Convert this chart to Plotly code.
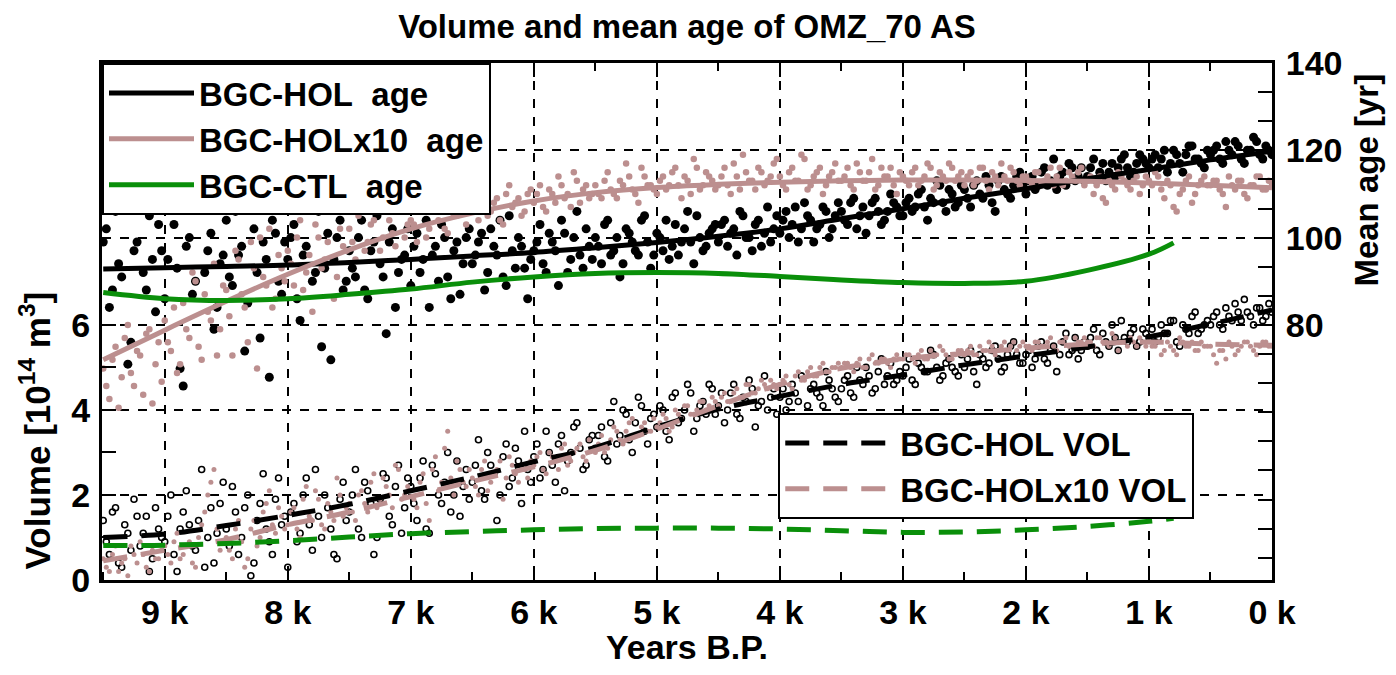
import plotly.graph_objects as go

# time axis (years before present); two interleaved sample sets
YEARS_A = list(range(9500, -1, -50))
YEARS_B = list(range(9475, 0, -50))
LINE_YEARS = [9500, 9000, 8500, 8000, 7500, 7000, 6500, 6000, 5500, 5000,
              4500, 4000, 3500, 3000, 2500, 2000, 1500, 1000, 500, 0]
CTL_YEARS = [9500, 9000, 8500, 8000, 7500, 7000, 6500, 6000, 5500, 5000,
             4500, 4000, 3500, 3000, 2500, 2000, 1500, 1000, 800]

# mean age scatter [yr]
hol_age_a = [
    99, 84, 106, 91, 71, 97, 110, 88, 95, 103,
    86, 108, 93, 66, 100, 90, 112, 97, 79, 94,
    104, 89, 96, 74, 107, 92, 99, 68, 101, 87,
    95, 103, 81, 98, 90, 106, 93, 72, 100, 88,
    97, 91, 104, 86, 99, 94, 78, 102, 92, 96,
    89, 101, 95, 84, 98, 103, 91, 97, 87, 100,
    94, 99, 88, 102, 96, 91, 105, 93, 98, 86,
    97, 103, 92, 99, 89, 101, 95, 106, 93, 98,
    100, 94, 104, 97, 91, 102, 99, 96, 105, 93,
    101, 97, 95, 103, 99, 106, 94, 100, 98, 102,
    99, 104, 101, 96, 105, 100, 103, 98, 107, 102,
    101, 106, 103, 99, 108, 104, 102, 107, 100, 105,
    106, 103, 109, 105, 101, 108, 106, 104, 110, 107,
    105, 109, 107, 111, 104, 108, 112, 106, 110, 108,
    111, 107, 113, 109, 112, 106, 114, 110, 112, 115,
    110, 114, 112, 116, 113, 111, 115, 117, 113, 116,
    114, 118, 115, 113, 117, 116, 119, 114, 117, 118,
    116, 119, 118, 115, 120, 117, 119, 121, 118, 116,
    119, 121, 117, 120, 122, 118, 120, 123, 119, 121,
    119,
]
hol_age_b = [
    102, 88, 94, 108, 76, 99, 92, 105, 83, 97,
    95, 103, 70, 98, 87, 109, 92, 101, 84, 96,
    91, 106, 98, 85, 102, 77, 95, 104, 90, 99,
    100, 86, 96, 108, 92, 75, 101, 95, 104, 90,
    93, 100, 88, 97, 105, 91, 99, 84, 95, 102,
    98, 92, 104, 96, 90, 100, 86, 99, 94, 102,
    96, 101, 92, 98, 104, 89, 97, 100, 93, 95,
    99, 94, 101, 97, 104, 92, 100, 96, 102, 95,
    98, 103, 96, 100, 94, 101, 97, 104, 99, 96,
    100, 104, 98, 96, 102, 99, 105, 97, 101, 103,
    103, 98, 102, 106, 100, 97, 104, 101, 99, 105,
    104, 100, 107, 102, 105, 99, 103, 106, 102, 108,
    104, 108, 102, 107, 105, 109, 103, 106, 108, 105,
    108, 106, 110, 107, 109, 113, 108, 111, 107, 112,
    109, 112, 110, 114, 108, 113, 111, 109, 114, 112,
    113, 111, 115, 112, 118, 114, 112, 116, 114, 113,
    116, 113, 117, 115, 114, 118, 116, 115, 119, 117,
    118, 116, 120, 117, 119, 115, 121, 118, 117, 120,
    120, 118, 122, 119, 121, 117, 120, 122, 118, 120,
]
holx10_age_a = [
    70, 63, 75, 68, 80, 66, 73, 78, 62, 76,
    81, 74, 69, 85, 77, 90, 72, 83, 94, 79,
    88, 73, 95, 84, 99, 70, 91, 102, 86, 93,
    97, 89, 104, 92, 83, 100, 95, 107, 91, 98,
    102, 95, 109, 99, 104, 97, 111, 101, 106, 100,
    104, 99, 108, 102, 106, 110, 101, 105, 108, 103,
    107, 104, 111, 106, 109, 103, 112, 108, 105, 110,
    108, 112, 106, 110, 114, 109, 107, 113, 111, 109,
    112, 109, 115, 110, 113, 117, 111, 108, 114, 112,
    110, 114, 112, 116, 109, 113, 118, 111, 115, 113,
    112, 116, 110, 114, 119, 113, 111, 115, 113, 117,
    114, 111, 116, 113, 118, 112, 115, 110, 114, 117,
    113, 116, 111, 115, 113, 118, 112, 114, 116, 110,
    114, 112, 116, 113, 117, 111, 115, 113, 116, 114,
    112, 115, 113, 116, 111, 114, 117, 113, 115, 112,
    114, 112, 115, 113, 116, 114, 112, 115, 113, 116,
    113, 110, 114, 108, 112, 115, 113, 111, 114, 112,
    113, 115, 111, 113, 107, 110, 113, 108, 112, 114,
    112, 113, 110, 114, 111, 113, 109, 112, 114, 111,
    112,
]
holx10_age_b = [
    66, 72, 61, 77, 69, 74, 64, 79, 71, 67,
    76, 84, 71, 79, 92, 75, 87, 81, 73, 89,
    82, 97, 87, 76, 93, 100, 89, 84, 96, 90,
    94, 100, 88, 96, 103, 93, 99, 86, 102, 97,
    99, 105, 97, 103, 108, 100, 104, 98, 107, 103,
    103, 107, 100, 109, 104, 102, 107, 105, 111, 106,
    106, 109, 105, 108, 104, 110, 107, 109, 106, 111,
    110, 107, 111, 108, 112, 110, 115, 108, 112, 110,
    110, 113, 111, 109, 112, 114, 110, 116, 112, 111,
    113, 111, 115, 112, 114, 110, 116, 112, 114, 111,
    114, 112, 117, 111, 115, 113, 116, 112, 114, 118,
    112, 115, 113, 119, 111, 114, 116, 112, 115, 113,
    114, 112, 117, 113, 115, 111, 116, 114, 112, 115,
    113, 115, 112, 114, 116, 112, 114, 117, 113, 115,
    114, 112, 116, 113, 115, 112, 114, 116, 113, 114,
    113, 115, 112, 114, 112, 116, 113, 114, 115, 112,
    114, 112, 109, 113, 111, 114, 112, 113, 110, 114,
    112, 114, 109, 112, 106, 111, 114, 110, 113, 112,
    113, 111, 107, 112, 113, 110, 112, 114, 111, 113,
]

# volume scatter [10^14 m^3]
hol_vol_a = [
    1.4, 0.6, 1.7, 0.3, 1.1, 1.9, 0.8, 1.5, 0.5, 1.2,
    0.9, 2.0, 0.2, 1.6, 1.3, 0.7, 2.6, 1.0, 0.4, 1.8,
    1.2, 2.2, 0.6, 1.7, 0.1, 1.4, 2.5, 0.9, 1.9, 1.3,
    0.3, 1.8, 1.1, 2.4, 0.7, 1.5, 2.0, 1.2, 0.5, 2.3,
    1.6, 2.6, 1.0, 2.1, 0.6, 1.9, 2.4, 1.3, 2.7, 1.7,
    2.2, 1.4, 2.8, 1.1, 2.5, 1.8, 3.0, 2.0, 1.5, 2.6,
    2.3, 3.3, 1.9, 2.7, 1.4, 2.9, 2.2, 3.1, 1.8, 2.6,
    2.9, 2.4, 3.5, 2.7, 3.2, 2.1, 3.0, 3.7, 2.6, 3.3,
    3.1, 3.6, 2.8, 4.2, 3.4, 3.9, 3.0, 4.3, 3.5, 3.8,
    3.6, 4.0, 3.3, 4.4, 3.8, 4.6, 3.5, 4.1, 3.9, 4.5,
    4.1, 3.7, 4.4, 3.9, 4.3, 4.7, 3.6, 4.2, 4.0, 4.5,
    4.3, 4.0, 4.6, 4.2, 3.8, 4.5, 4.4, 4.1, 4.7, 4.3,
    4.5, 4.8, 4.3, 4.7, 5.0, 4.4, 4.9, 4.6, 5.1, 4.7,
    4.8, 5.2, 4.6, 5.0, 4.9, 5.3, 4.7, 5.1, 5.0, 4.8,
    5.0, 5.4, 4.6, 5.2, 5.1, 5.5, 4.9, 5.3, 5.6, 5.1,
    5.3, 5.0, 5.5, 5.2, 5.4, 4.9, 5.6, 5.3, 5.7, 5.4,
    5.5, 5.9, 5.3, 5.6, 6.0, 5.4, 5.7, 5.8, 5.5, 5.9,
    5.7, 5.6, 6.0, 5.8, 6.1, 5.5, 5.9, 6.2, 5.8, 6.0,
    6.0, 6.3, 5.9, 6.2, 6.5, 6.1, 6.3, 6.0, 6.4, 6.2,
    6.3,
]
hol_vol_b = [
    0.9, 1.6, 0.4, 1.3, 0.7, 1.5, 1.1, 0.2, 1.7, 1.0,
    1.5, 0.6, 1.2, 2.1, 0.8, 1.4, 0.3, 1.7, 1.1, 2.3,
    0.8, 1.6, 1.0, 2.0, 0.4, 1.8, 1.2, 0.6, 2.4, 1.5,
    1.6, 0.9, 2.0, 1.3, 2.6, 1.0, 1.7, 0.6, 1.9, 1.4,
    2.0, 1.2, 2.3, 1.8, 1.0, 2.5, 1.5, 2.2, 1.1, 2.4,
    1.8, 2.4, 1.2, 2.7, 2.0, 2.3, 1.6, 2.8, 2.2, 1.9,
    2.7, 2.1, 3.0, 2.5, 2.0, 3.2, 2.4, 2.8, 3.5, 2.3,
    3.2, 2.6, 3.0, 2.3, 3.4, 2.8, 3.6, 3.1, 2.7, 3.4,
    3.4, 2.9, 3.7, 3.2, 4.0, 3.3, 3.7, 4.1, 3.2, 3.9,
    4.1, 3.5, 4.3, 3.7, 4.0, 4.4, 3.8, 4.2, 4.6, 3.9,
    4.4, 4.0, 4.6, 3.8, 4.2, 4.5, 4.1, 4.8, 4.3, 3.9,
    4.5, 4.2, 4.4, 4.8, 4.1, 4.6, 4.3, 4.9, 4.5, 4.2,
    4.7, 4.4, 5.0, 4.6, 4.8, 4.5, 5.2, 4.8, 4.6, 4.9,
    5.0, 4.7, 5.1, 4.9, 5.4, 5.0, 4.8, 5.2, 4.9, 5.3,
    5.2, 4.9, 5.3, 5.0, 5.4, 5.2, 5.0, 5.5, 5.3, 5.1,
    5.4, 5.2, 5.6, 5.1, 5.5, 5.3, 5.8, 5.4, 5.2, 5.6,
    5.7, 5.4, 5.8, 5.5, 5.7, 6.1, 5.6, 5.9, 5.6, 5.8,
    5.9, 5.7, 5.8, 6.1, 5.6, 6.0, 5.8, 6.3, 5.9, 6.1,
    6.2, 6.0, 6.4, 6.1, 6.3, 6.6, 6.2, 6.4, 6.1, 6.5,
]
holx10_vol_a = [
    0.5, 0.2, 0.8, 0.4, 0.1, 0.6, 0.9, 0.3, 0.7, 0.5,
    0.8, 0.4, 1.1, 0.6, 0.9, 0.3, 1.3, 2.0, 2.6, 0.7,
    1.0, 0.5, 1.4, 0.3, 1.2, 0.8, 1.6, 2.1, 1.1, 1.5,
    1.3, 1.7, 1.0, 2.2, 1.4, 1.9, 1.2, 1.6, 2.4, 1.5,
    1.8, 1.4, 2.1, 1.6, 2.5, 1.9, 2.2, 1.7, 2.6, 2.0,
    2.1, 1.7, 2.5, 1.4, 2.9, 2.3, 3.5, 2.0, 2.6, 2.2,
    2.4, 2.0, 2.8, 2.3, 2.6, 1.9, 2.9, 2.5, 2.7, 2.4,
    2.7, 3.0, 2.5, 2.9, 2.6, 3.2, 2.8, 3.1, 2.9, 3.3,
    3.0, 3.4, 3.1, 3.6, 3.3, 3.5, 3.8, 3.4, 3.7, 3.5,
    3.6, 3.9, 3.5, 4.0, 3.8, 4.1, 3.9, 4.2, 4.0, 4.3,
    4.1, 4.4, 4.2, 4.5, 4.3, 4.6, 4.4, 4.7, 4.5, 4.6,
    4.6, 4.8, 4.5, 4.9, 4.7, 5.0, 4.8, 5.1, 4.9, 5.0,
    5.0, 5.1, 4.9, 5.2, 5.0, 5.3, 5.1, 5.2, 5.0, 5.3,
    5.2, 5.3, 5.1, 5.4, 5.2, 5.3, 5.5, 5.3, 5.2, 5.4,
    5.3, 5.5, 5.3, 5.4, 5.6, 5.3, 5.5, 5.4, 5.6, 5.5,
    5.5, 5.4, 5.6, 5.5, 5.7, 5.4, 5.6, 5.5, 5.7, 5.6,
    5.6, 5.5, 5.7, 5.6, 5.8, 5.4, 5.6, 5.7, 5.5, 5.6,
    5.6, 5.5, 5.3, 5.6, 5.4, 5.7, 5.5, 5.6, 5.4, 5.5,
    5.5, 5.1, 5.4, 5.6, 5.3, 5.5, 5.6, 5.4, 5.5, 5.6,
    5.5,
]
holx10_vol_b = [
    0.3, 0.6, 0.2, 0.5, 0.8, 0.4, 0.6, 0.2, 0.5, 0.7,
    0.6, 0.9, 0.5, 0.8, 0.4, 1.0, 1.6, 2.3, 1.2, 0.9,
    0.7, 1.2, 0.9, 0.5, 1.4, 1.0, 1.8, 1.3, 1.7, 1.2,
    1.6, 1.2, 1.9, 1.5, 2.1, 1.3, 1.8, 1.4, 2.0, 1.7,
    1.6, 2.0, 1.8, 2.3, 1.7, 2.4, 2.0, 2.7, 1.9, 2.2,
    1.9, 2.3, 1.8, 2.6, 2.1, 3.1, 2.4, 2.8, 2.3, 2.6,
    2.2, 2.6, 2.1, 2.5, 2.8, 2.4, 2.7, 2.3, 2.6, 2.8,
    2.9, 2.6, 3.0, 2.8, 3.1, 2.7, 3.0, 3.2, 2.8, 3.1,
    3.2, 3.0, 3.3, 3.5, 3.2, 3.7, 3.4, 3.6, 3.5, 3.8,
    3.7, 3.8, 3.6, 3.9, 4.1, 3.9, 4.0, 4.2, 4.1, 4.2,
    4.3, 4.2, 4.4, 4.3, 4.6, 4.4, 4.5, 4.6, 4.7, 4.5,
    4.7, 4.6, 4.8, 4.7, 4.9, 4.8, 5.0, 4.9, 5.0, 5.1,
    5.1, 5.0, 5.1, 5.0, 5.2, 5.1, 5.2, 5.1, 5.2, 5.2,
    5.3, 5.2, 5.3, 5.2, 5.4, 5.3, 5.4, 5.2, 5.3, 5.4,
    5.4, 5.3, 5.5, 5.4, 5.5, 5.4, 5.6, 5.5, 5.4, 5.6,
    5.5, 5.6, 5.5, 5.6, 5.5, 5.6, 5.7, 5.5, 5.6, 5.7,
    5.6, 5.7, 5.6, 5.5, 5.7, 5.6, 5.5, 5.6, 5.7, 5.5,
    5.5, 5.6, 5.4, 5.5, 5.3, 5.6, 5.5, 5.4, 5.6, 5.5,
    5.3, 5.4, 5.2, 5.5, 5.4, 5.6, 5.5, 5.3, 5.6, 5.5,
]

# smoothed curves
hol_age_fit = [92.8, 93.1, 93.4, 93.7, 94.3, 95.0, 95.8, 96.6, 97.7, 98.9,
               100.3, 102.0, 104.3, 106.6, 109.0, 111.2, 113.5, 115.6, 117.8, 119.8]
holx10_age_fit = [72.0, 78.8, 85.4, 91.6, 97.2, 102.0, 105.6, 108.4, 110.3, 111.5,
                  112.2, 112.7, 113.0, 113.2, 113.2, 113.1, 112.9, 112.5, 112.0, 111.4]
ctl_age_fit = [87.4, 86.0, 85.6, 86.0, 87.0, 88.2, 89.8, 91.0, 91.8, 92.0,
               91.8, 91.1, 90.3, 89.7, 89.5, 90.0, 92.5, 96.2, 98.8]
hol_vol_fit = [1.0, 1.08, 1.28, 1.52, 1.78, 2.1, 2.42, 2.78, 3.12, 3.6,
               4.02, 4.32, 4.6, 4.82, 5.06, 5.27, 5.48, 5.72, 6.02, 6.35]
holx10_vol_fit = [0.45, 0.7, 0.95, 1.3, 1.6, 1.96, 2.32, 2.66, 3.05, 3.55,
                  4.1, 4.6, 4.98, 5.2, 5.33, 5.45, 5.55, 5.6, 5.55, 5.52]
ctl_vol_fit = [0.81, 0.82, 0.86, 0.92, 1.01, 1.09, 1.14, 1.18, 1.21, 1.22,
               1.22, 1.2, 1.16, 1.12, 1.13, 1.18, 1.26, 1.38, 1.45]

X_TICKS = [9000, 8000, 7000, 6000, 5000, 4000, 3000, 2000, 1000, 0]
X_TICK_TEXT = ["9 k", "8 k", "7 k", "6 k", "5 k", "4 k", "3 k", "2 k", "1 k", "0 k"]

BLACK = "black"
PINK = "#BC8F8F"
GREEN = "#0a8f0a"
FONT = "Liberation Sans"
DASH = "24px,14px"

years = YEARS_A + YEARS_B

fig = go.Figure()

# volume (left axis)
fig.add_trace(go.Scatter(
    x=years, y=hol_vol_a + hol_vol_b, mode="markers", showlegend=False,
    marker=dict(symbol="circle-open", size=6, color=BLACK, line=dict(width=1.6)),
))
fig.add_trace(go.Scatter(
    x=years, y=holx10_vol_a + holx10_vol_b, mode="markers", showlegend=False,
    marker=dict(size=5, color=PINK),
))
fig.add_trace(go.Scatter(
    x=LINE_YEARS, y=hol_vol_fit, mode="lines", name="BGC-HOL VOL", legend="legend2",
    line=dict(color=BLACK, width=5, dash=DASH, shape="spline"),
))
fig.add_trace(go.Scatter(
    x=LINE_YEARS, y=holx10_vol_fit, mode="lines", name="BGC-HOLx10 VOL", legend="legend2",
    line=dict(color=PINK, width=5, dash=DASH, shape="spline"),
))
fig.add_trace(go.Scatter(
    x=CTL_YEARS, y=ctl_vol_fit, mode="lines", showlegend=False,
    line=dict(color=GREEN, width=5, dash=DASH, shape="spline"),
))

# mean age (right axis)
fig.add_trace(go.Scatter(
    x=years, y=hol_age_a + hol_age_b, mode="markers", showlegend=False, yaxis="y2",
    marker=dict(size=9, color=BLACK),
))
fig.add_trace(go.Scatter(
    x=years, y=holx10_age_a + holx10_age_b, mode="markers", showlegend=False, yaxis="y2",
    marker=dict(size=6.5, color=PINK),
))
fig.add_trace(go.Scatter(
    x=LINE_YEARS, y=hol_age_fit, mode="lines", name="BGC-HOL\u00a0 age", yaxis="y2",
    line=dict(color=BLACK, width=5, shape="spline"),
))
fig.add_trace(go.Scatter(
    x=LINE_YEARS, y=holx10_age_fit, mode="lines", name="BGC-HOLx10\u00a0 age", yaxis="y2",
    line=dict(color=PINK, width=5, shape="spline"),
))
fig.add_trace(go.Scatter(
    x=CTL_YEARS, y=ctl_age_fit, mode="lines", name="BGC-CTL\u00a0 age", yaxis="y2",
    line=dict(color=GREEN, width=5, shape="spline"),
))

axis_font = dict(family=FONT, size=34, color="black", weight="bold")
grid = dict(showgrid=True, gridcolor="black", gridwidth=1.5, griddash="dash")
legend_font = dict(family=FONT, size=33, color="black", weight="bold")
label_font = dict(family=FONT, size=34, color="black", weight="bold")

# page body adds an 8px margin, so the figure is a little smaller than the window
fig.update_layout(
    width=1380, height=659,
    margin=dict(l=94, r=116, t=55, b=87),
    paper_bgcolor="white", plot_bgcolor="white",
    title=dict(text="Volume and mean age of OMZ_70 AS", x=0.492, xanchor="center",
               y=0.99, yanchor="top", pad=dict(t=0),
               font=dict(family=FONT, size=33, color="black", weight="bold")),
    xaxis=dict(
        range=[9510, 0], tickvals=X_TICKS, ticktext=X_TICK_TEXT,
        ticks="inside", ticklen=14, tickwidth=2, tickcolor="black",
        minor=dict(tickvals=[9500, 8500, 7500, 6500, 5500, 4500, 3500, 2500, 1500, 500],
                   ticks="inside", ticklen=8, tickwidth=2, tickcolor="black"),
        showline=True, linewidth=3, linecolor="black", mirror="ticks",
        tickfont=axis_font, ticklabelstandoff=0, zeroline=False, automargin=False,
        **grid,
    ),
    yaxis=dict(
        range=[0, 12.16], tickvals=[0, 2, 4, 6],
        ticks="inside", ticklen=14, tickwidth=2, tickcolor="black",
        minor=dict(tickvals=[1, 3, 5], ticks="inside", ticklen=14, tickwidth=2,
                   tickcolor="black"),
        showline=True, linewidth=3, linecolor="black",
        tickfont=axis_font, ticklabelstandoff=2, zeroline=False, automargin=False,
        **grid,
    ),
    yaxis2=dict(
        range=[21.56, 140], overlaying="y", side="right",
        tickvals=[80, 100, 120, 140],
        ticks="inside", ticklen=14, tickwidth=2, tickcolor="black",
        minor=dict(tick0=80, dtick=20 / 3, ticks="inside", ticklen=14, tickwidth=2,
                   tickcolor="black"),
        showline=True, linewidth=3, linecolor="black",
        tickfont=axis_font, ticklabelstandoff=4, zeroline=False, automargin=False,
        **grid,
    ),
    legend=dict(
        x=0, y=1, xanchor="left", yanchor="top",
        bgcolor="white", bordercolor="black", borderwidth=2,
        font=legend_font, tracegroupgap=0, itemwidth=85,
    ),
    legend2=dict(
        x=0.578, y=0.323, xanchor="left", yanchor="top",
        bgcolor="white", bordercolor="black", borderwidth=2,
        font=legend_font, tracegroupgap=0, itemwidth=110,
    ),
    annotations=[
        dict(text="Years B.P.", xref="paper", yref="paper", x=0.5, y=-0.129,
             xanchor="center", yanchor="middle", showarrow=False, font=label_font),
        dict(text="Volume [10<sup>14</sup> m<sup>3</sup>]", textangle=-90,
             xref="paper", yref="paper", x=-0.057, y=0.29,
             xanchor="center", yanchor="middle", showarrow=False,
             font=dict(family=FONT, size=35, color="black", weight="bold")),
        dict(text="Mean age [yr]", textangle=-90,
             xref="paper", yref="paper", x=1.081, y=0.774,
             xanchor="center", yanchor="middle", showarrow=False,
             font=dict(family=FONT, size=33, color="black", weight="bold")),
    ],
)

fig.write_html("out.html")
